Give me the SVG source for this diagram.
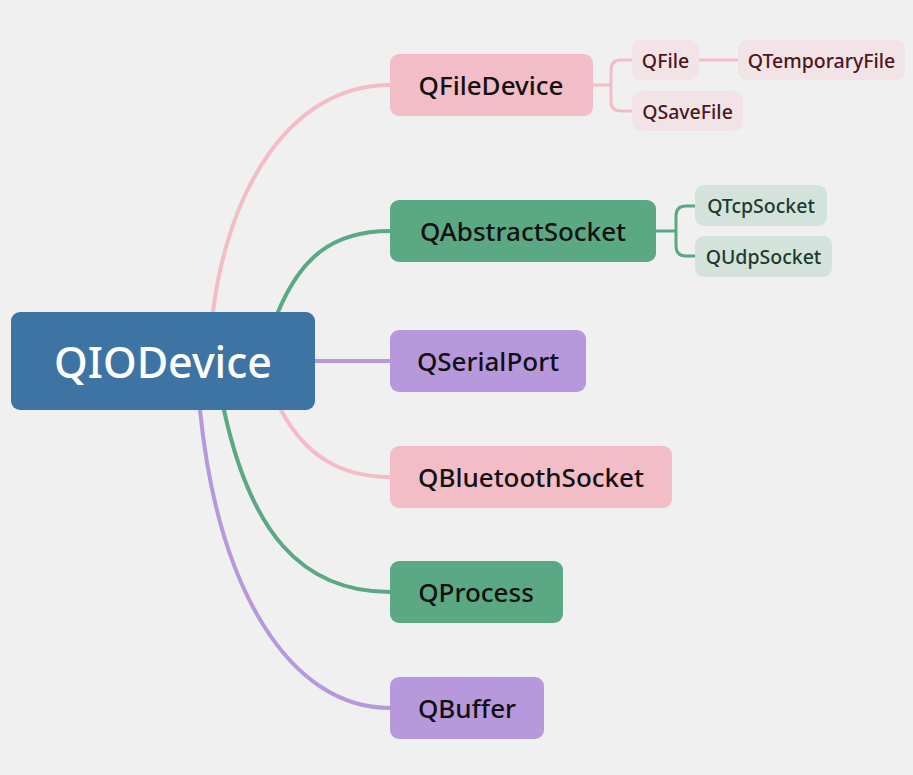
<svg xmlns="http://www.w3.org/2000/svg" width="913" height="775" viewBox="0 0 913 775">
<style>
text{font-family:"Noto Sans","Liberation Sans",sans-serif;dominant-baseline:central;text-anchor:middle;font-weight:500}
.c{fill:none;stroke-width:4;stroke-linecap:round}
.cs{fill:none;stroke-width:3;stroke-linecap:round}
.pk{stroke:#f2bdc7}.gr{stroke:#5ba885}.pu{stroke:#b898dc}
.n1{font-size:26px;fill:#111}
.n2{font-size:19.5px}
</style>
<rect width="913" height="775" fill="#f0f0f0"/>
<g id="connectors">
<path class="c pk" d="M213,312 C228,190 290,85 390,85"/>
<path class="c gr" d="M278,312 C300,260 330,231 390,231"/>
<path class="c pu" d="M315,361 L390,361"/>
<path class="c pk" d="M281,410 C305,455 340,477 390,477"/>
<path class="c gr" d="M224,410 C250,530 300,592 390,592"/>
<path class="c pu" d="M200,410 C218,590 290,708 390,708"/>
<path class="cs pk" d="M593,85 H611 M632,60 H621 Q611,60 611,70 V101 Q611,111 621,111 H632 M699,60 H738"/>
<path class="cs gr" d="M656,231 H676 M695,206 H686 Q676,206 676,216 V246 Q676,256 686,256 H695"/>
</g>
<g id="QIODevice"><rect x="11" y="312" width="304" height="98" rx="9" fill="#3d74a4"/><text x="163" y="361" font-size="43" fill="#fff">QIODevice</text></g>
<g id="QFileDevice"><rect x="390" y="54" width="203" height="62" rx="9" fill="#f2bdc7"/><text class="n1" x="491" y="85">QFileDevice</text></g>
<g id="QAbstractSocket"><rect x="390" y="200" width="266" height="62" rx="9" fill="#5ba885"/><text class="n1" x="523" y="231">QAbstractSocket</text></g>
<g id="QSerialPort"><rect x="390" y="330" width="196" height="62" rx="9" fill="#b898dc"/><text class="n1" x="488" y="361">QSerialPort</text></g>
<g id="QBluetoothSocket"><rect x="390" y="446" width="282" height="62" rx="9" fill="#f2bdc7"/><text class="n1" x="531" y="477">QBluetoothSocket</text></g>
<g id="QProcess"><rect x="390" y="561" width="173" height="62" rx="9" fill="#5ba885"/><text class="n1" x="476" y="592">QProcess</text></g>
<g id="QBuffer"><rect x="390" y="677" width="154" height="62" rx="9" fill="#b898dc"/><text class="n1" x="467" y="708">QBuffer</text></g>
<g id="QFile"><rect x="632" y="40" width="67" height="40" rx="9" fill="#f2e4e6"/><text class="n2" x="665.5" y="60" fill="#4a1620">QFile</text></g>
<g id="QTemporaryFile"><rect x="738" y="40" width="167" height="40" rx="9" fill="#f2e4e6"/><text class="n2" x="821.5" y="60" fill="#4a1620">QTemporaryFile</text></g>
<g id="QSaveFile"><rect x="632" y="91" width="111" height="40" rx="9" fill="#f2e4e6"/><text class="n2" x="687.5" y="111" fill="#4a1620">QSaveFile</text></g>
<g id="QTcpSocket"><rect x="695" y="185" width="132" height="41" rx="9" fill="#d3e3dc"/><text class="n2" x="761" y="205.5" fill="#1e3a30">QTcpSocket</text></g>
<g id="QUdpSocket"><rect x="695" y="236" width="137" height="41" rx="9" fill="#d3e3dc"/><text class="n2" x="763.5" y="256.5" fill="#1e3a30">QUdpSocket</text></g>
</svg>
